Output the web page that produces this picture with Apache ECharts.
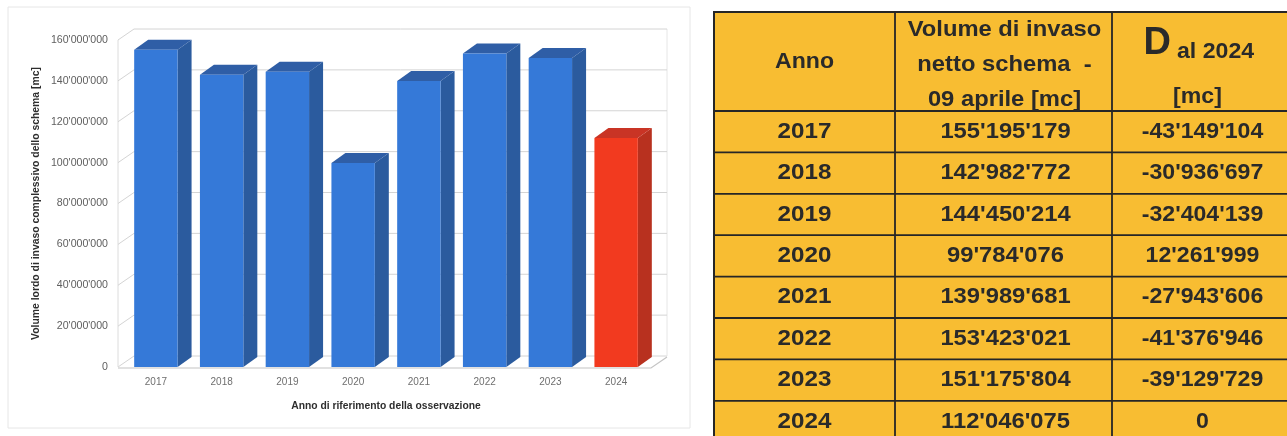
<!DOCTYPE html>
<html>
<head>
<meta charset="utf-8">
<title>Volume di invaso 2017-2024</title>
<script src="https://cdn.jsdelivr.net/npm/echarts@6/dist/echarts.min.js"></script>
<style>
  html, body { margin: 0; padding: 0; background: #ffffff; }
  #chart { width: 1287px; height: 436px; }
</style>
</head>
<body>
<div id="chart"></div>
<script>
// Anni di osservazione
const categories = ['2017', '2018', '2019', '2020', '2021', '2022', '2023', '2024'];
// Volume di invaso netto dello schema al 09 aprile [mc]
const volumeNetto = [155195179, 142982772, 144450214, 99784076, 139989681, 153423021, 151175804, 112046075];
// Differenza rispetto al 2024 [mc]
const deltaAl2024 = [-43149104, -30936697, -32404139, 12261999, -27943606, -41376946, -39129729, 0];
// Valori delle tacche dell'asse verticale
const yTicks = [0, 20000000, 40000000, 60000000, 80000000, 100000000, 120000000, 140000000, 160000000];
// Intestazioni della tabella
const headAnno = 'Anno';
const headVolume = ['Volume di invaso', 'netto schema  -', '09 aprile [mc]'];
const headDeltaSymbol = 'D';
const headDeltaRest = 'al 2024';
const headDeltaUnit = '[mc]';

// Formato con apostrofo come separatore delle migliaia
function fmt(n) {
  const s = Math.abs(n).toString().replace(/\B(?=(\d{3})+(?!\d))/g, "'");
  return (n < 0 ? '-' : '') + s;
}

// Profondità prospettica delle barre e delle pareti
const BAR_DX = 14, BAR_DY = 10;
const WALL_DX = 16, WALL_DY = 11;
const BLUE = { front: '#3579d8', side: '#2b5b9e', top: '#2f5ea6' };
const RED = { front: '#f23a1f', side: '#b8311f', top: '#c93425' };
const GRID_COLOR = '#d4d4d4';

function renderBar(params, api) {
  const idx = api.value(0);
  const v = api.value(1);
  const base = api.coord([idx, 0]);
  const top = api.coord([idx, v]);
  const w = api.size([1, 0])[0] * 0.66;
  const x0 = base[0] - w / 2;
  const x1 = x0 + w;
  const yb = base[1];
  const yt = top[1];
  const pal = idx === categories.length - 1 ? RED : BLUE;
  return {
    type: 'group',
    children: [
      { type: 'polygon', shape: { points: [[x1, yb], [x1 + BAR_DX, yb - BAR_DY], [x1 + BAR_DX, yt - BAR_DY], [x1, yt]] },
        style: { fill: pal.side } },
      { type: 'polygon', shape: { points: [[x0, yt], [x1, yt], [x1 + BAR_DX, yt - BAR_DY], [x0 + BAR_DX, yt - BAR_DY]] },
        style: { fill: pal.top } },
      { type: 'rect', shape: { x: x0, y: yt, width: w, height: yb - yt },
        style: { fill: pal.front } }
    ]
  };
}

function renderWall(params, api) {
  const cs = params.coordSys;
  const v = api.value(1);
  const y = api.coord([0, v])[1];
  const lx = cs.x - 5;
  const rx = cs.x + cs.width + 2;
  const children = [
    { type: 'polyline',
      shape: { points: [[lx, y], [lx + WALL_DX, y - WALL_DY], [rx + WALL_DX, y - WALL_DY]] },
      style: { stroke: GRID_COLOR, lineWidth: 1, fill: null } }
  ];
  if (v === 0) {
    const yTop = api.coord([0, yTicks[yTicks.length - 1]])[1];
    children.push(
      { type: 'line', shape: { x1: lx, y1: y, x2: lx, y2: yTop },
        style: { stroke: '#dcdcdc', lineWidth: 1 } },
      { type: 'polyline',
        shape: { points: [[lx, y + 1], [rx, y + 1], [rx + WALL_DX, y + 1 - WALL_DY]] },
        style: { stroke: '#c4c4c4', lineWidth: 1.2, fill: null } },
      { type: 'line', shape: { x1: rx + WALL_DX, y1: y - WALL_DY, x2: rx + WALL_DX, y2: yTop - WALL_DY },
        style: { stroke: '#e6e6e6', lineWidth: 1 } }
    );
  }
  return { type: 'group', children: children };
}

// Tabella a destra, disegnata come elementi grafici
const TAB = { cols: [714, 895, 1112, 1300], top: 12, headBottom: 111, rowH: 41.4 };
const TAB_FILL = '#f8bd32';
const TAB_LINE = '#262626';
const TAB_TEXT = '#2a2a2a';
const TAB_FONT = '"Liberation Sans", Arial, sans-serif';

function tableGraphics() {
  const g = [];
  const nRows = categories.length;
  const bottom = TAB.headBottom + nRows * TAB.rowH;
  const c = TAB.cols;
  g.push({ type: 'rect', shape: { x: c[0], y: TAB.top, width: c[3] - c[0], height: bottom - TAB.top },
    style: { fill: TAB_FILL, stroke: TAB_LINE, lineWidth: 2 } });
  for (let i = 0; i <= nRows; i++) {
    const y = TAB.headBottom + i * TAB.rowH;
    g.push({ type: 'line', shape: { x1: c[0], y1: y, x2: c[3], y2: y }, style: { stroke: TAB_LINE, lineWidth: 1.8 } });
  }
  [c[1], c[2]].forEach(function (x) {
    g.push({ type: 'line', shape: { x1: x, y1: TAB.top, x2: x, y2: bottom }, style: { stroke: TAB_LINE, lineWidth: 1.8 } });
  });
  const mid0 = (c[0] + c[1]) / 2, mid1 = (c[1] + c[2]) / 2, mid2 = (c[2] + 1287) / 2;
  function txt(x, y, s, size, sx) {
    return { type: 'text', x: x, y: y, scaleX: sx || 1,
      style: { text: s, fill: TAB_TEXT, font: 'bold ' + size + 'px ' + TAB_FONT,
        textAlign: 'center', textVerticalAlign: 'middle' } };
  }
  g.push(txt(mid0, 62, headAnno, 22, 1.05));
  headVolume.forEach(function (s, i) { g.push(txt(mid1 + 1, 30 + i * 35, s, 22, 1.08)); });
  g.push({ type: 'text', x: 1171, y: 63,
    style: { text: headDeltaSymbol, fill: TAB_TEXT, font: 'bold 38px ' + TAB_FONT,
      textAlign: 'right', textVerticalAlign: 'bottom' } });
  g.push({ type: 'text', x: 1177, y: 63, scaleX: 1.05,
    style: { text: headDeltaRest, fill: TAB_TEXT, font: 'bold 22px ' + TAB_FONT,
      textAlign: 'left', textVerticalAlign: 'bottom' } });
  g.push(txt(mid2 - 2, 97, headDeltaUnit, 22, 1.05));
  for (let i = 0; i < nRows; i++) {
    const y = TAB.headBottom + (i + 0.5) * TAB.rowH;
    g.push(txt(mid0, y, categories[i], 22, 1.1));
    g.push(txt(mid1 + 2, y, fmt(volumeNetto[i]), 22, 1.08));
    g.push(txt(mid2 + 3, y, fmt(deltaAl2024[i]), 22, 1.05));
  }
  return g;
}

const chart = echarts.init(document.getElementById('chart'), null, { renderer: 'canvas' });
const CHART_FONT = '"Liberation Sans", Arial, sans-serif';

chart.setOption({
  backgroundColor: '#ffffff',
  animation: false,
  grid: { left: 123, top: 40, width: 526, height: 327 },
  xAxis: {
    type: 'category',
    data: categories,
    axisLine: { show: false },
    axisTick: { show: false },
    axisLabel: { color: '#6f6f6f', fontSize: 10, margin: 10, fontFamily: CHART_FONT },
    name: 'Anno di riferimento della osservazione',
    nameLocation: 'middle',
    nameGap: 34,
    nameTextStyle: { color: '#2e2e2e', fontSize: 10.3, fontWeight: 'bold', fontFamily: CHART_FONT }
  },
  yAxis: {
    type: 'value',
    min: 0,
    max: 160000000,
    interval: 20000000,
    axisLine: { show: false },
    axisTick: { show: false },
    splitLine: { show: false },
    axisLabel: { color: '#5f5f5f', fontSize: 10.6, margin: 15, fontFamily: CHART_FONT,
      formatter: function (v) { return fmt(v); } },
    name: 'Volume lordo di invaso complessivo dello schema [mc]',
    nameLocation: 'middle',
    nameGap: 82,
    nameTextStyle: { color: '#2e2e2e', fontSize: 10.4, fontWeight: 'bold', fontFamily: CHART_FONT }
  },
  series: [
    {
      type: 'custom',
      name: 'pareti',
      renderItem: renderWall,
      data: yTicks.map(function (v) { return [0, v]; }),
      encode: { x: 0, y: 1 },
      silent: true,
      z: 1
    },
    {
      type: 'custom',
      name: 'Volume',
      renderItem: renderBar,
      data: categories.map(function (c, i) { return [i, volumeNetto[i]]; }),
      encode: { x: 0, y: 1 },
      z: 2
    }
  ],
  graphic: [
    { type: 'rect', shape: { x: 8, y: 7, width: 682, height: 421 },
      style: { fill: null, stroke: '#e6e6e6', lineWidth: 1 }, z: -1 }
  ].concat(tableGraphics())
});
</script>
</body>
</html>
